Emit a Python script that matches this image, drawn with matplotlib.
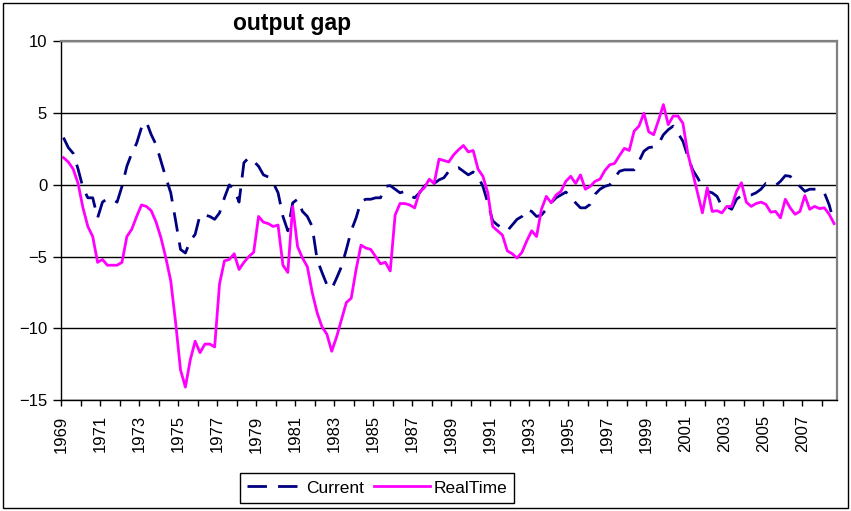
import numpy as np
import matplotlib
matplotlib.use('Agg')
import matplotlib.pyplot as plt
from matplotlib.patches import Rectangle

# Dados trimestrais de 1969Q1 ate 2008Q3
ano_inicio = 1969

current = [
    3.3, 2.6, 2.2, 1.1, -0.2, -0.9, -0.9, -2.3, -1.2, -0.95,
    -1.0, -1.2, -0.1, 1.3, 2.2, 2.9, 4.0, 4.4, 3.5, 2.8,
    1.65, 0.5, -0.55, -2.5, -4.5, -4.75, -3.9, -3.45, -2.1, -2.1,
    -2.2, -2.4, -1.95, -0.9, 0.0, -0.3, -1.2, 1.55, 1.9, 1.65,
    1.3, 0.7, 0.55, 0.15, -0.55, -2.2, -3.2, -1.25, -1.0, -1.85,
    -2.2, -2.9, -5.2, -6.1, -6.95, -7.25, -6.5, -5.7, -4.5, -3.2,
    -2.3, -1.15, -1.0, -1.0, -0.9, -0.9, -0.1, -0.05, -0.3, -0.55,
    -0.45, -0.75, -0.9, -0.55, -0.1, 0.35, 0.1, 0.35, 0.5, 0.95,
    1.1, 1.2, 0.95, 0.7, 0.9, 0.6, -0.1, -1.25, -2.5, -2.8,
    -3.0, -3.2, -2.8, -2.4, -2.2, -1.7, -1.85, -2.2, -2.1, -1.7,
    -1.25, -0.9, -0.7, -0.5, -0.8, -1.25, -1.6, -1.6, -1.35, -0.65,
    -0.3, -0.1, 0.0, 0.5, 0.95, 1.05, 1.05, 1.05, 1.65, 2.35,
    2.6, 2.65, 2.85, 3.5, 3.85, 4.1, 3.6, 3.05, 2.0, 1.05,
    0.5, -0.1, -0.45, -0.55, -0.8, -1.5, -1.5, -1.7, -1.0, -0.75,
    -0.7, -0.7, -0.55, -0.3, 0.1, 0.0, -0.05, 0.25, 0.65, 0.6,
    0.15, -0.1, -0.45, -0.3, -0.3, -0.3, -0.55, -1.4, -2.65,
]

realtime = [
    1.9, 1.6, 1.1, 0.1, -1.6, -2.9, -3.6, -5.4, -5.2, -5.6,
    -5.6, -5.6, -5.4, -3.6, -3.1, -2.2, -1.4, -1.5, -1.8, -2.6,
    -3.7, -5.1, -6.7, -9.6, -12.9, -14.1, -12.2, -10.9, -11.7, -11.1,
    -11.1, -11.3, -6.9, -5.3, -5.2, -4.8, -5.9, -5.4, -5.0, -4.7,
    -2.2, -2.6, -2.7, -2.9, -2.8, -5.6, -6.1, -1.5, -4.3, -5.1,
    -5.7, -7.5, -8.9, -9.9, -10.4, -11.6, -10.6, -9.4, -8.2, -7.9,
    -5.9, -4.2, -4.4, -4.5, -5.0, -5.5, -5.4, -6.0, -2.1, -1.3,
    -1.3, -1.4, -1.6, -0.5, -0.2, 0.4, 0.1, 1.8, 1.7, 1.6,
    2.1, 2.45, 2.75, 2.3, 2.4, 1.1, 0.6, -0.55, -2.9, -3.2,
    -3.5, -4.6, -4.8, -5.1, -4.7, -3.9, -3.2, -3.6, -1.7, -0.8,
    -1.25, -0.7, -0.45, 0.25, 0.6, 0.1, 0.7, -0.3, -0.1, 0.25,
    0.4, 1.0, 1.4, 1.5, 2.05, 2.55, 2.4, 3.75, 4.1, 5.0,
    3.7, 3.5, 4.5, 5.6, 4.2, 4.8, 4.8, 4.3, 2.2, 0.85,
    -0.55, -1.95, -0.2, -1.85, -1.8, -1.95, -1.5, -1.5, -0.45, 0.15,
    -1.2, -1.5, -1.3, -1.2, -1.35, -1.9, -1.85, -2.3, -1.0, -1.6,
    -2.05, -1.85, -0.75, -1.7, -1.5, -1.65, -1.6, -2.05, -2.7,
]

anos = np.arange(1969, 2009)
rotulos = [str(a) if (a - 1969) % 2 == 0 else '' for a in anos]

plt.rcParams['font.family'] = ['Liberation Sans', 'DejaVu Sans']

# eixo do tempo: cada trimestre no centro da sua categoria
t = ano_inicio + (np.arange(len(current)) + 0.5) / 4

fig = plt.figure(figsize=(8.51, 5.11), dpi=100)
ax = fig.add_axes([0.0717, 0.2172, 0.9113, 0.7016])

ax.plot(t, current, color='#000080', lw=2, dashes=(7, 4), label='Current')
ax.plot(t, realtime, color='#FF00FF', lw=2, label='RealTime')

# eixos
ax.set_xlim(1969, 1969 + len(current) / 4)
ax.set_ylim(-15, 10)
ax.set_yticks([-15, -10, -5, 0, 5, 10])
ax.set_xticks(anos)
ax.set_xticklabels(rotulos, rotation=90, fontsize=12)
ax.tick_params(axis='y', labelsize=12, length=6, width=1, pad=4)
ax.tick_params(axis='x', length=4, width=1, pad=7)

# grade horizontal
ax.yaxis.grid(True, color='black', lw=1)
ax.set_axisbelow(True)

ax.spines['top'].set_color('#808080')
ax.spines['top'].set_linewidth(1.6)
ax.spines['right'].set_color('#808080')
ax.spines['right'].set_linewidth(1.6)
ax.spines['left'].set_linewidth(1)
ax.spines['bottom'].set_linewidth(1)

# titulo
fig.text(292 / 851, 1 - 23 / 511, 'output gap', ha='center', va='center',
         fontsize=16.5, weight='bold')

# legenda
leg = fig.legend(loc='center', bbox_to_anchor=(377 / 851, 1 - 488 / 511),
                 ncol=2, frameon=True, fancybox=False, edgecolor='black',
                 fontsize=12.5, handlelength=3.2, handletextpad=0.2,
                 columnspacing=0.6, borderpad=0.4, framealpha=1)
leg.get_frame().set_linewidth(1)

# moldura do grafico inteiro
fig.patches.append(Rectangle((3 / 851, 3 / 511), 845 / 851, 505 / 511,
                             transform=fig.transFigure, fill=False,
                             edgecolor='black', lw=1))

fig.savefig('out.png', dpi=100)
